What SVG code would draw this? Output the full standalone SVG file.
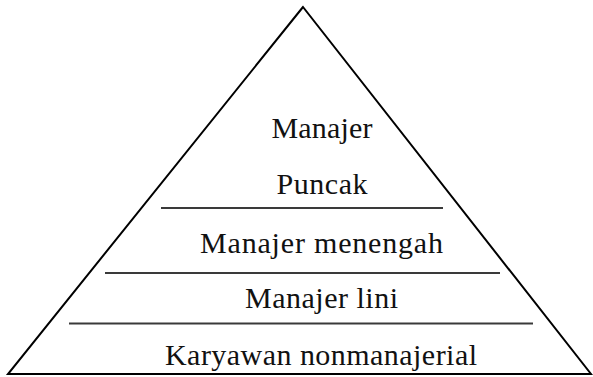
<svg xmlns="http://www.w3.org/2000/svg" width="593" height="377" viewBox="0 0 593 377">
  <style>
    .outline { fill: none; stroke: #000; stroke-width: 2; stroke-linejoin: miter; }
    .divider { stroke: #3a3a3a; stroke-width: 2.2; }
    .label { font-family: "Liberation Serif", "Times New Roman", serif; font-size: 30px; fill: #111; text-anchor: middle; }
  </style>
  <rect width="593" height="377" fill="#fff"/>
  <!-- outer pyramid -->
  <g id="pyramid">
    <polygon class="outline" points="303,7 8,374 591,374"/>
  </g>
  <!-- level dividers -->
  <g id="connectors">
    <line class="divider" x1="161" y1="208" x2="443" y2="208"/>
    <line class="divider" x1="105" y1="273" x2="500" y2="273"/>
    <line class="divider" x1="69" y1="323.5" x2="533" y2="323.5"/>
  </g>
  <g id="top-level">
    <text class="label" x="322" y="138" textLength="101">Manajer</text>
    <text class="label" x="322" y="194" textLength="91">Puncak</text>
  </g>
  <g id="middle-level">
    <text class="label" x="321.5" y="253" textLength="243">Manajer menengah</text>
  </g>
  <g id="line-level">
    <text class="label" x="321.5" y="308" textLength="153">Manajer lini</text>
  </g>
  <g id="non-managerial">
    <text class="label" x="321" y="365" textLength="312">Karyawan nonmanajerial</text>
  </g>
</svg>
